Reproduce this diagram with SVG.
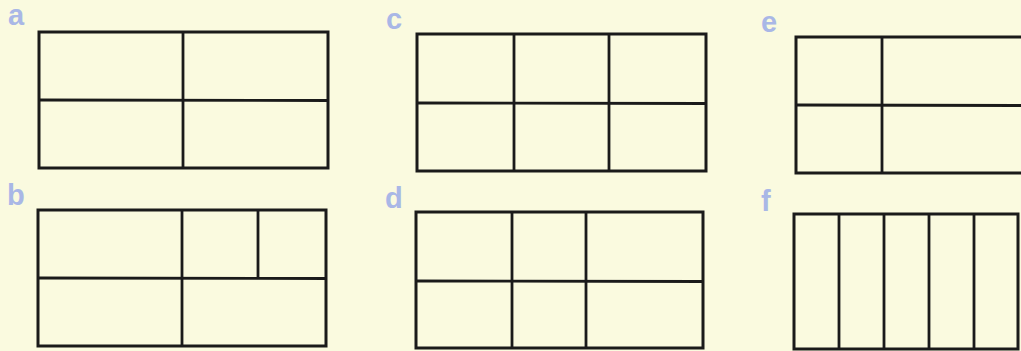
<svg xmlns="http://www.w3.org/2000/svg" width="1021" height="351" viewBox="0 0 1021 351">
<style>
.bg{fill:#fafadf}
.box{fill:none;stroke:#1a1a1a;stroke-width:3}
.ln{stroke:#1a1a1a;stroke-width:2.8;fill:none}
.lbl{font-family:"Liberation Sans",Arial,sans-serif;font-weight:bold;font-size:29px;fill:#a9b7e6}
</style>
<rect class="bg" x="0" y="0" width="1021" height="351"/>
<g id="a">
<text class="lbl" x="8" y="25">a</text>
<rect class="box" x="39" y="32" width="289" height="136"/>
<line class="ln" x1="183" y1="32" x2="183" y2="168"/>
<line class="ln" x1="39" y1="100" x2="328" y2="100.5"/>
</g>
<g id="b">
<text class="lbl" x="7" y="205">b</text>
<rect class="box" x="38" y="210" width="288" height="136"/>
<line class="ln" x1="182" y1="210" x2="182" y2="346"/>
<line class="ln" x1="258" y1="210" x2="258" y2="278"/>
<line class="ln" x1="38" y1="278" x2="326" y2="278.5"/>
</g>
<g id="c">
<text class="lbl" x="386" y="29">c</text>
<rect class="box" x="417" y="34" width="289" height="137"/>
<line class="ln" x1="514" y1="34" x2="514" y2="171"/>
<line class="ln" x1="609" y1="34" x2="609" y2="171"/>
<line class="ln" x1="417" y1="103" x2="706" y2="103.5"/>
</g>
<g id="d">
<text class="lbl" x="385" y="208">d</text>
<rect class="box" x="416" y="212" width="287" height="136"/>
<line class="ln" x1="512" y1="212" x2="512" y2="348"/>
<line class="ln" x1="586" y1="212" x2="586" y2="348"/>
<line class="ln" x1="416" y1="281" x2="703" y2="281.5"/>
</g>
<g id="e">
<text class="lbl" x="761" y="32">e</text>
<polyline class="box" points="1024,37 796,37 796,173 1024,173"/>
<line class="ln" x1="882" y1="37" x2="882" y2="173"/>
<line class="ln" x1="796" y1="105" x2="1021" y2="105.5"/>
</g>
<g id="f">
<text class="lbl" x="761" y="211">f</text>
<rect class="box" x="794" y="214" width="224" height="135"/>
<line class="ln" x1="839" y1="214" x2="839" y2="349"/>
<line class="ln" x1="884" y1="214" x2="884" y2="349"/>
<line class="ln" x1="929" y1="214" x2="929" y2="349"/>
<line class="ln" x1="974" y1="214" x2="974" y2="349"/>
</g>
</svg>
